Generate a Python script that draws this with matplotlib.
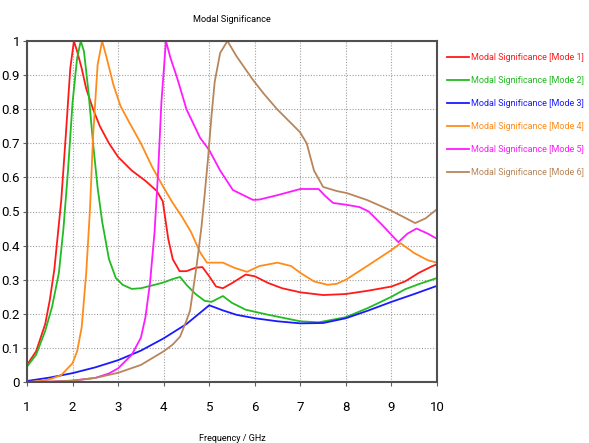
import matplotlib
matplotlib.use("Agg")
import matplotlib.pyplot as plt
import numpy as np

# values (frequency in GHz, modal significance)
m1_f = [1.0, 1.2, 1.4, 1.5, 1.6, 1.75, 1.85, 1.95, 2.03, 2.1, 2.2, 2.3, 2.45, 2.6, 2.8, 3.0, 3.3,
        3.6, 3.85, 3.98, 4.1, 4.2, 4.35, 4.5, 4.7, 4.85, 5.0, 5.15, 5.3, 5.5, 5.8, 6.0, 6.3,
        6.6, 7.0, 7.5, 8.0, 8.5, 9.0, 9.3, 9.6, 9.9, 10.0]
m1_v = [0.05, 0.09, 0.17, 0.24, 0.33, 0.53, 0.72, 0.92, 1.0, 0.97, 0.92, 0.86, 0.8, 0.75, 0.70, 0.66, 0.62,
        0.59, 0.56, 0.53, 0.42, 0.36, 0.325, 0.325, 0.335, 0.337, 0.31, 0.28, 0.275, 0.29, 0.315, 0.31, 0.29,
        0.275, 0.263, 0.255, 0.258, 0.268, 0.28, 0.295, 0.32, 0.34, 0.345]

m2_f = [1.0, 1.2, 1.4, 1.55, 1.7, 1.8, 1.9, 2.0, 2.1, 2.18, 2.25, 2.35, 2.45, 2.55, 2.65, 2.8,
        2.95, 3.1, 3.3, 3.5, 3.8, 4.0, 4.2, 4.36, 4.5, 4.7, 4.9, 5.05, 5.3, 5.5, 5.8, 6.3,
        7.0, 7.4, 8.0, 8.5, 9.0, 9.3, 9.6, 10.0]
m2_v = [0.045, 0.08, 0.15, 0.22, 0.32, 0.45, 0.62, 0.82, 0.95, 1.0, 0.97, 0.85, 0.7, 0.57, 0.47, 0.36,
        0.305, 0.285, 0.273, 0.275, 0.285, 0.292, 0.302, 0.308, 0.285, 0.258, 0.238, 0.235, 0.252, 0.232, 0.212, 0.197,
        0.178, 0.175, 0.19, 0.218, 0.25, 0.272, 0.287, 0.305]

m3_f = [1.0, 1.5, 2.0, 2.5, 3.0, 3.5, 4.0, 4.5, 5.0, 5.3, 5.6, 6.0, 6.5, 7.0, 7.5, 8.0,
        8.5, 9.0, 9.5, 10.0]
m3_v = [0.003, 0.013, 0.026, 0.043, 0.064, 0.092, 0.128, 0.17, 0.225, 0.21, 0.197, 0.187, 0.178, 0.172, 0.173, 0.187,
        0.21, 0.235, 0.258, 0.282]

m4_f = [1.0, 1.3, 1.5, 1.75, 2.0, 2.1, 2.2, 2.3, 2.38, 2.45, 2.55, 2.65, 2.75, 2.9, 3.05, 3.25,
        3.5, 3.75, 4.0, 4.2, 4.4, 4.6, 4.8, 4.95, 5.3, 5.55, 5.83, 6.1, 6.5, 6.8, 7.0, 7.3,
        7.6, 7.8, 8.0, 8.5, 9.0, 9.2, 9.5, 9.8, 10.0]
m4_v = [0.0, 0.003, 0.008, 0.02, 0.055, 0.09, 0.16, 0.32, 0.5, 0.72, 0.93, 1.0, 0.95, 0.87, 0.81, 0.76,
        0.70, 0.63, 0.57, 0.525, 0.485, 0.44, 0.38, 0.35, 0.35, 0.335, 0.323, 0.34, 0.35, 0.34, 0.32, 0.295,
        0.285, 0.288, 0.30, 0.343, 0.387, 0.407, 0.378, 0.357, 0.35]

m5_f = [1.0, 1.5, 2.0, 2.5, 2.8, 3.0, 3.3, 3.5, 3.6, 3.7, 3.8, 3.88, 3.95, 4.05, 4.15, 4.3,
        4.5, 4.8, 5.0, 5.24, 5.52, 5.96, 6.1, 6.5, 7.0, 7.4, 7.55, 7.72, 8.0, 8.3, 8.5, 8.8,
        9.15, 9.35, 9.55, 9.8, 10.0]
m5_v = [0.0, 0.001, 0.004, 0.012, 0.025, 0.04, 0.08, 0.13, 0.19, 0.29, 0.44, 0.62, 0.82, 1.0, 0.95, 0.89,
        0.80, 0.716, 0.68, 0.62, 0.563, 0.534, 0.535, 0.548, 0.566, 0.566, 0.545, 0.525, 0.52, 0.513, 0.50, 0.46,
        0.41, 0.435, 0.45, 0.435, 0.42]

m6_f = [1.0, 1.5, 2.0, 2.5, 3.0, 3.5, 4.0, 4.2, 4.36, 4.5, 4.58, 4.72, 4.83, 4.9, 4.97, 5.05,
        5.12, 5.24, 5.4, 5.6, 5.96, 6.2, 6.49, 6.99, 7.14, 7.3, 7.5, 7.8, 8.02, 8.46, 8.97, 9.25,
        9.52, 9.75, 10.0]
m6_v = [0.0, 0.001, 0.004, 0.012, 0.027, 0.05, 0.09, 0.11, 0.133, 0.18, 0.21, 0.338, 0.455, 0.55, 0.65, 0.78,
        0.88, 0.965, 1.0, 0.955, 0.886, 0.845, 0.80, 0.733, 0.70, 0.62, 0.572, 0.56, 0.554, 0.534, 0.504, 0.485,
        0.466, 0.48, 0.507]

series = [
    ("Modal Significance [Mode 1]", m1_f, m1_v, "#ff1a1a"),
    ("Modal Significance [Mode 2]", m2_f, m2_v, "#22bb22"),
    ("Modal Significance [Mode 3]", m3_f, m3_v, "#1a1aff"),
    ("Modal Significance [Mode 4]", m4_f, m4_v, "#ff8c1a"),
    ("Modal Significance [Mode 5]", m5_f, m5_v, "#ff1aff"),
    ("Modal Significance [Mode 6]", m6_f, m6_v, "#b8865a"),
]

plt.rcParams["font.family"] = ["Roboto", "DejaVu Sans"]

fig = plt.figure(figsize=(5.89, 4.43), dpi=100)
ax = fig.add_axes([27 / 589, 61 / 443, 410 / 589, 341 / 443])

for label, f, v, color in series:
    ax.plot(f, v, color=color, lw=1.3, label=label)

ax.set_xlim(1, 10)
ax.set_ylim(0, 1)
ax.set_xticks(np.arange(1, 11))
ax.set_yticks(np.round(np.arange(0, 1.01, 0.1), 1))
ax.set_yticklabels(["0"] + [f"{t:.1f}" for t in np.arange(0.1, 0.95, 0.1)] + ["1"])
ax.grid(True, color="#a0a0a0", lw=0.8, linestyle=(0, (1, 1.5)))
ax.tick_params(labelsize=9.5, length=3, color="#606060", pad=2)
ax.tick_params(axis="x", pad=11)
for s in ax.spines.values():
    s.set_color("#505050")
    s.set_linewidth(1.5)

ax.set_title("Modal Significance", fontsize=6.6, pad=14)
ax.set_xlabel("Frequency / GHz", fontsize=6.5, labelpad=14)

leg = fig.legend(loc="upper left", bbox_to_anchor=(447 / 589, 1 - 53 / 443), frameon=False,
                 labelcolor="linecolor", fontsize=6.5, handlelength=2.4, handletextpad=0.25,
                 labelspacing=1.55, borderaxespad=0, borderpad=0)

fig.savefig("out.png", dpi=100)
